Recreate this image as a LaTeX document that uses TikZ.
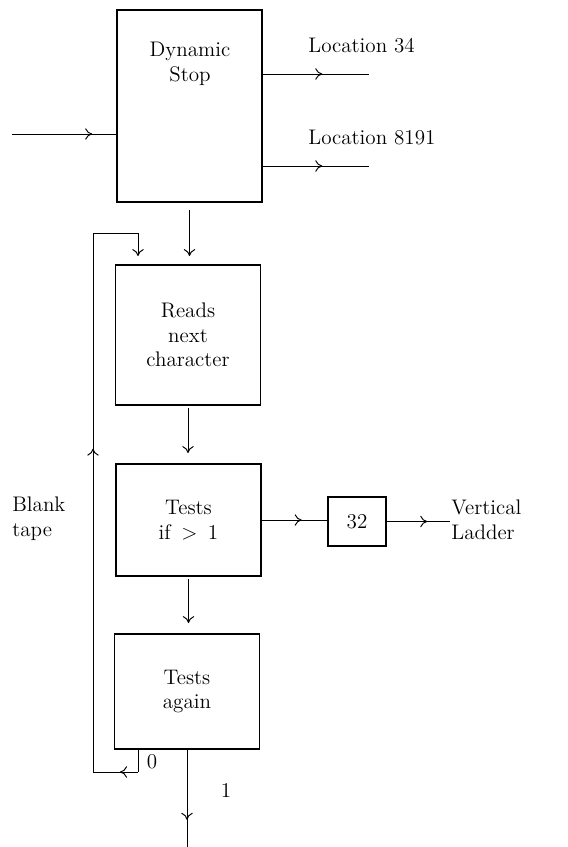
\documentclass[tikz,border=0pt]{standalone}
\usetikzlibrary{decorations.markings, arrows.meta}

\tikzset{
	block/.style={draw, line width=1pt, inner sep=0pt, minimum width=2.9cm, align=center, font=\large},
	txt/.style={inner sep=0pt, align=center, font=\large},
	flow/.style={line width=0.55pt},
	midarrow/.style={postaction={decorate}, decoration={markings, mark=at position #1 with {\arrow{>}}}}
}

\begin{document}
\begin{tikzpicture}[x=0.02cm, y=-0.02cm, >={To[length=4pt, width=6.5pt]}]
	\useasboundingbox (0,0) rectangle (567,847);

	\node[block, minimum height=3.84cm] (stop) at (189.5,106) {};
	\node[txt] (stoptext) at (190,64) {Dynamic\\Stop};
	\node[block, minimum height=2.8cm] (reads) at (188,335) {Reads\\next\\character};
	\node[block, minimum height=2.24cm] (tests) at (188.5,520) {Tests\\if\enspace$>$\enspace1};
	\node[block, minimum height=2.3cm] (again) at (187,691.5) {Tests\\again};
	\node[block, minimum width=1.16cm, minimum height=0.98cm] (num) at (357,521.5) {32};

	\coordinate (in) at (12,134);
	\coordinate (loc34) at (369,74);
	\coordinate (loc8191) at (369,166);
	\coordinate (ladder) at (450,520);
	\coordinate (exit) at (187,847);
	\coordinate (zero) at (138,772);
	\coordinate (loopbl) at (93,772);
	\coordinate (looptl) at (93,233);
	\coordinate (looptr) at (138,233);

	\draw[flow, midarrow=0.77] (in) -- (in -| stop.west);
	\draw[flow, midarrow=0.56] (stop.east |- loc34) -- (loc34);
	\draw[flow, midarrow=0.56] (stop.east |- loc8191) -- (loc8191);
	\draw[flow, ->, shorten <=0.14cm, shorten >=0.16cm] (stop.south) -- (stop.south |- reads.north);
	\draw[flow, ->, shorten >=0.16cm] (looptl) -- (looptr) -- (looptr |- reads.north);
	\draw[flow, ->, shorten <=0.04cm, shorten >=0.2cm] (reads.south) -- (reads.south |- tests.north);
	\draw[flow, midarrow=0.61] (tests.east) -- (tests.east -| num.west);
	\draw[flow, midarrow=0.64] (num.east) -- (ladder |- num.east);
	\draw[flow, ->, shorten <=0.04cm, shorten >=0.2cm] (tests.south) -- (tests.south |- again.north);
	\draw[flow, midarrow=0.72] (again.south) -- (exit);
	\draw[flow] (again.south -| zero) -- (zero);
	\draw[flow, midarrow=0.4] (zero) -- (loopbl);
	\draw[flow, midarrow=0.6] (loopbl) -- (looptl);

	\node[txt, anchor=west] (loc34text) at (308,46) {Location 34};
	\node[txt, anchor=west] (loc8191text) at (308,138) {Location 8191};
	\node[txt, anchor=west, align=left] (laddertext) at (451,520) {Vertical\\Ladder};
	\node[txt, anchor=west, align=left] (blanktext) at (12,519) {Blank\\tape};
	\node[txt] (zerotext) at (152,762) {0};
	\node[txt] (onetext) at (226,790) {1};
\end{tikzpicture}
\end{document}
